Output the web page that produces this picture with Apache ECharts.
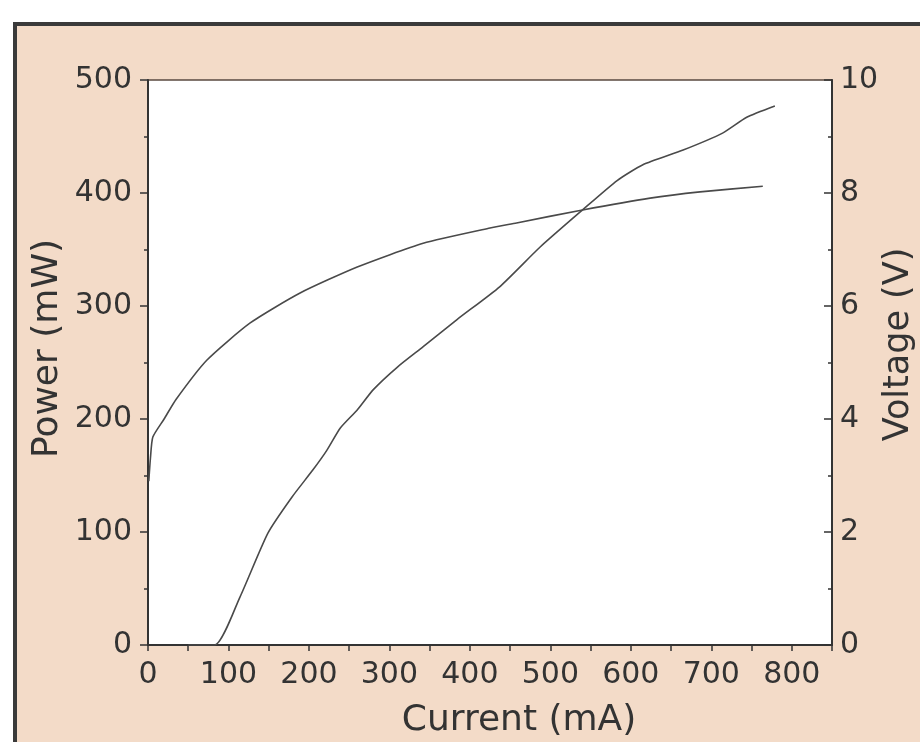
<!DOCTYPE html>
<html>
<head>
<meta charset="utf-8">
<script src="https://cdn.jsdelivr.net/npm/echarts@6/dist/echarts.min.js"></script>
<style>
  html, body { margin: 0; padding: 0; background: #fff; }
  #box { width: 920px; height: 742px; }
</style>
</head>
<body>
<div id="box"></div>
<script>
// power curve (left axis): current mA -> power mW
let powerCurrent = [50, 83, 114, 149, 179, 205, 222, 239, 260, 280, 310, 342, 384, 437, 487, 540, 583, 615, 665, 714, 744, 779];
let powerValues = [0, 0, 42, 99, 131, 155, 172, 192, 208, 226, 246, 264, 288, 317, 352, 385, 411, 425, 438, 453, 467, 477];

// voltage curve (right axis): current mA -> voltage V
let voltageCurrent = [1, 3, 6, 20, 35, 73, 127, 189, 260, 342, 425, 458, 540, 624, 686, 764];
let voltageValues = [2.9, 3.3, 3.68, 4.0, 4.35, 5.04, 5.7, 6.23, 6.69, 7.11, 7.38, 7.47, 7.7, 7.91, 8.02, 8.12];

let xTicks = [0, 100, 200, 300, 400, 500, 600, 700, 800];

let font = "DejaVu Sans";
let ink = "#333";

function pairs(xs, ys) {
  return xs.map((x, i) => [x, ys[i]]);
}

let chart = echarts.init(document.getElementById("box"), null, { renderer: "canvas" });

let option = {
  backgroundColor: "#fff",
  animation: false,
  //# peach frame behind the plot
  graphic: [
    {
      type: "rect",
      z: -10,
      shape: { x: 15, y: 24, width: 940, height: 760 },
      style: { fill: "#f3dbc8", stroke: "#3a3a3a", lineWidth: 4 }
    }
  ],
  grid: {
    left: 148,
    right: 88,
    top: 80,
    bottom: 97,
    outerBoundsMode: "none",
    show: true,
    backgroundColor: "#fff",
    borderColor: "#5a4a40",
    borderWidth: 1.5
  },
  xAxis: {
    type: "value",
    min: 0,
    max: 850,
    interval: 50,
    name: "Current (mA)",
    nameLocation: "middle",
    nameMoveOverlap: false,
    nameGap: 58,
    nameTextStyle: { fontFamily: font, fontSize: 36, color: ink, padding: [0, 0, 0, 58] },
    axisLine: { lineStyle: { color: "#333", width: 2 } },
    axisTick: { length: 6, lineStyle: { color: "#333", width: 1.5 } },
    axisLabel: {
      margin: 15,
      fontFamily: font,
      fontSize: 30,
      color: ink,
      formatter: v => (xTicks.indexOf(v) >= 0 ? String(v) : "")
    },
    splitLine: { show: false }
  },
  yAxis: [
    {
      type: "value",
      min: 0,
      max: 500,
      interval: 100,
      name: "Power (mW)",
      nameLocation: "middle",
      nameMoveOverlap: false,
      nameRotate: 90,
      nameGap: 82,
      nameTextStyle: { fontFamily: font, fontSize: 36, color: ink, padding: [0, 0, 0, 28] },
      axisLine: { show: true, lineStyle: { color: "#333", width: 2 } },
      axisTick: { length: 8, lineStyle: { color: "#333", width: 1.5 } },
      minorTick: { show: true, splitNumber: 2, length: 4, lineStyle: { color: "#333", width: 1.5 } },
      axisLabel: { margin: 16, fontFamily: font, fontSize: 30, color: ink },
      splitLine: { show: false }
    },
    {
      type: "value",
      min: 0,
      max: 10,
      interval: 2,
      position: "right",
      name: "Voltage (V)",
      nameLocation: "middle",
      nameMoveOverlap: false,
      nameRotate: 90,
      nameGap: 49,
      nameTextStyle: { fontFamily: font, fontSize: 35, color: ink, padding: [0, 0, 0, 36] },
      axisLine: { show: true, lineStyle: { color: "#333", width: 2 } },
      axisTick: { inside: true, length: 8, lineStyle: { color: "#333", width: 1.5 } },
      minorTick: { show: true, splitNumber: 2, length: 4, lineStyle: { color: "#333", width: 1.5 } },
      axisLabel: { margin: 8, fontFamily: font, fontSize: 30, color: ink },
      splitLine: { show: false }
    }
  ],
  series: [
    {
      name: "Power",
      type: "line",
      yAxisIndex: 0,
      data: pairs(powerCurrent, powerValues),
      showSymbol: false,
      smooth: 0.2,
      lineStyle: { color: "#4a4a4a", width: 1.6 }
    },
    {
      name: "Voltage",
      type: "line",
      yAxisIndex: 1,
      data: pairs(voltageCurrent, voltageValues),
      showSymbol: false,
      smooth: 0.2,
      lineStyle: { color: "#4a4a4a", width: 1.6 }
    }
  ]
};

chart.setOption(option);
</script>
</body>
</html>
